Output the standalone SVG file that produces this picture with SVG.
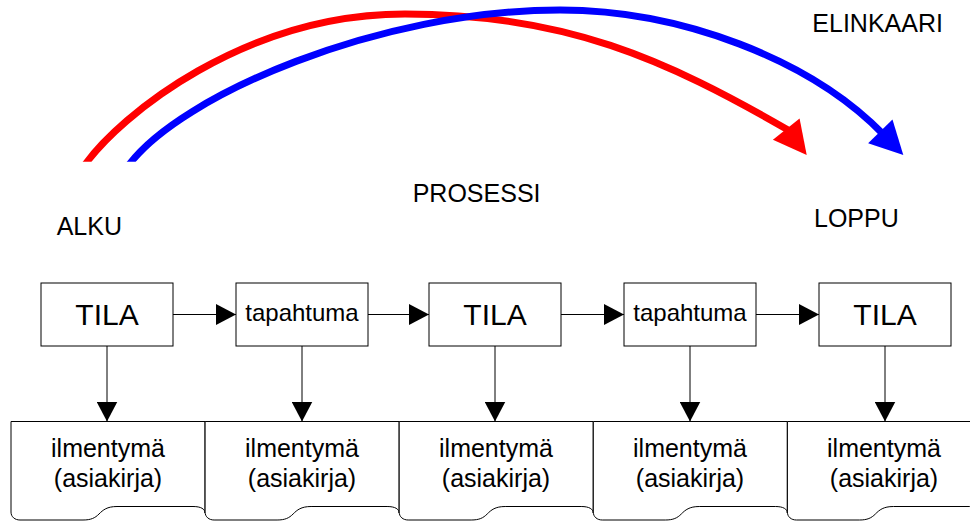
<svg xmlns="http://www.w3.org/2000/svg" xmlns:xlink="http://www.w3.org/1999/xlink" width="970" height="522" viewBox="0 0 970 522">
<style>
  text { font-family: "Liberation Sans", Arial, sans-serif; fill: #000; }
  .lbl { font-size: 25px; }
  .box { fill: #fff; stroke: #000; stroke-width: 1; }
  .doc { fill: #fff; stroke: #000; stroke-width: 1; }
  .tila { font-size: 30px; text-anchor: middle; }
  .tap { font-size: 24px; text-anchor: middle; }
  .dt { font-size: 25px; text-anchor: middle; }
  .conn { stroke: #000; stroke-width: 1; fill: none; marker-end: url(#ah); }
  .arc { fill: none; stroke-width: 7; }
</style>
<defs>
  <marker id="ah" markerUnits="userSpaceOnUse" markerWidth="20" markerHeight="21" refX="20" refY="10.5" orient="auto">
    <path d="M0,0 L20,10.5 L0,21 Z" fill="#000"/>
  </marker>
  <path id="bighead" d="M0,0 L-33,-17 L-33,17 Z"/>
  <path id="docshape" class="doc" d="M0,421.5 H194 V513 C194,509 190,506.5 182,506.5 H106 C96,506.5 92,510 88,514 C84,518 80,520 72,520 H9 C4,520 0,517 0,512 Z"/>
  <clipPath id="arcclip"><rect x="0" y="0" width="970" height="161.7"/></clipPath>
</defs>

<g id="labels">
  <text class="lbl" x="812.3" y="31.7">ELINKAARI</text>
  <text class="lbl" x="412.7" y="202.3">PROSESSI</text>
  <text class="lbl" x="56.7" y="234.5">ALKU</text>
  <text class="lbl" x="814" y="227.3">LOPPU</text>
</g>

<g id="connectors">
  <g clip-path="url(#arcclip)">
    <path class="arc" stroke="#ff0000" d="M84,166 C120,115 245,14 405,14 C565,14 665,59 789,130.5"/>
    <path class="arc" stroke="#0000ff" d="M128,166 C180,95 380,10 560,10 C680,10 810,59 883,134"/>
  </g>
  <use xlink:href="#bighead" href="#bighead" fill="#ff0000" transform="translate(806.7,155) rotate(51.7)"/>
  <use xlink:href="#bighead" href="#bighead" fill="#0000ff" transform="translate(903.3,155) rotate(45.8)"/>
  <line class="conn" x1="173" y1="314.5" x2="236" y2="314.5"/>
  <line class="conn" x1="368" y1="314.5" x2="429" y2="314.5"/>
  <line class="conn" x1="561" y1="314.5" x2="624" y2="314.5"/>
  <line class="conn" x1="756" y1="314.5" x2="819" y2="314.5"/>
  <line class="conn" x1="107" y1="346" x2="107" y2="421.5"/>
  <line class="conn" x1="302" y1="346" x2="302" y2="421.5"/>
  <line class="conn" x1="495" y1="346" x2="495" y2="421.5"/>
  <line class="conn" x1="690" y1="346" x2="690" y2="421.5"/>
  <line class="conn" x1="885" y1="346" x2="885" y2="421.5"/>
</g>

<g id="tila1"><rect class="box" x="41" y="283" width="132" height="63"/><text class="tila" x="107" y="325">TILA</text></g>
<g id="tapahtuma1"><rect class="box" x="236" y="283" width="132" height="63"/><text class="tap" x="302" y="320.5">tapahtuma</text></g>
<g id="tila2"><rect class="box" x="429" y="283" width="132" height="63"/><text class="tila" x="495" y="325">TILA</text></g>
<g id="tapahtuma2"><rect class="box" x="624" y="283" width="132" height="63"/><text class="tap" x="690" y="320.5">tapahtuma</text></g>
<g id="tila3"><rect class="box" x="819" y="283" width="132" height="63"/><text class="tila" x="885" y="325">TILA</text></g>

<g id="doc1"><use xlink:href="#docshape" href="#docshape" x="11"/><text class="dt" x="108" y="456.5">ilmentymä</text><text class="dt" x="108" y="486.5">(asiakirja)</text></g>
<g id="doc2"><use xlink:href="#docshape" href="#docshape" x="205.1"/><text class="dt" x="302" y="456.5">ilmentymä</text><text class="dt" x="302" y="486.5">(asiakirja)</text></g>
<g id="doc3"><use xlink:href="#docshape" href="#docshape" x="399.2"/><text class="dt" x="496" y="456.5">ilmentymä</text><text class="dt" x="496" y="486.5">(asiakirja)</text></g>
<g id="doc4"><use xlink:href="#docshape" href="#docshape" x="593.3"/><text class="dt" x="690" y="456.5">ilmentymä</text><text class="dt" x="690" y="486.5">(asiakirja)</text></g>
<g id="doc5"><use xlink:href="#docshape" href="#docshape" x="787.4"/><text class="dt" x="884" y="456.5">ilmentymä</text><text class="dt" x="884" y="486.5">(asiakirja)</text></g>
</svg>
